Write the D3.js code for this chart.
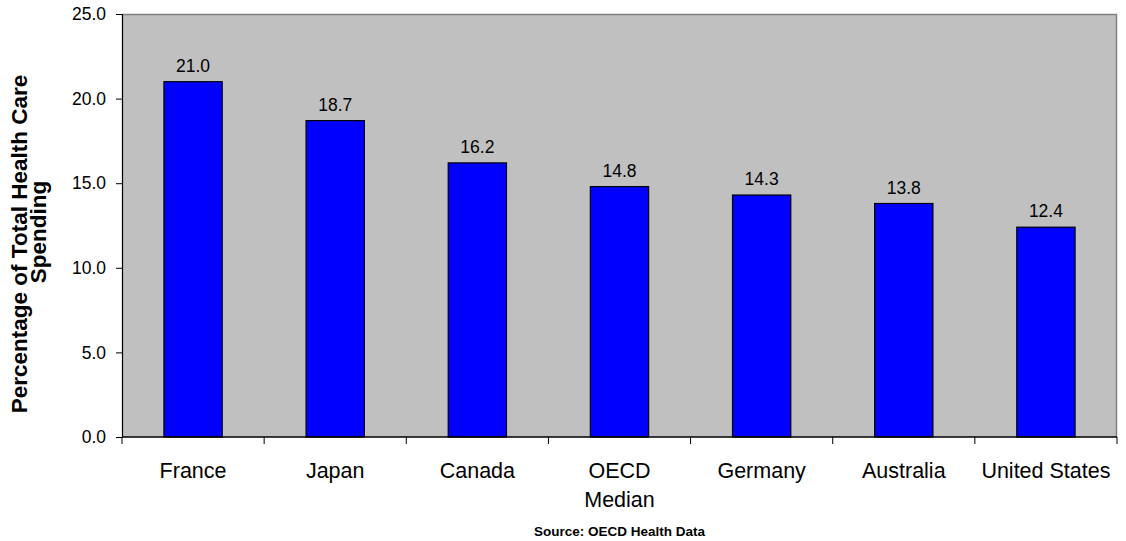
<!DOCTYPE html>
<html>
<head>
<meta charset="utf-8">
<script src="https://cdn.jsdelivr.net/npm/d3@7"></script>
<style>
  body { margin: 0; background: #fff; }
  svg { display: block; font-family: Arial, "Liberation Sans", sans-serif; }
</style>
</head>
<body>
<svg id="chart" width="1126" height="541"></svg>
<script>
var categories = ['France', 'Japan', 'Canada', 'OECD\nMedian', 'Germany', 'Australia', 'United States'];
var values = [21.0, 18.7, 16.2, 14.8, 14.3, 13.8, 12.4];
var yTicks = [0, 5, 10, 15, 20, 25];
var yTitle = ['Percentage of Total Health Care', 'Spending'];
var source = 'Source: OECD Health Data';

var svg = d3.select('#chart');
var plotLeft = 122, plotRight = 1117, plotTop = 14, plotBottom = 437;

var x = d3.scaleBand().domain(categories).range([plotLeft, plotRight]).padding(0);
var y = d3.scaleLinear().domain([0, 25]).range([plotBottom, plotTop]);
var barWidth = x.bandwidth() * 0.41;

// plot background
svg.append('rect')
    .attr('x', plotLeft).attr('y', plotTop)
    .attr('width', plotRight - plotLeft).attr('height', plotBottom - plotTop)
    .attr('fill', '#c0c0c0');
svg.append('path')
    .attr('d', 'M' + plotLeft + ',' + (plotTop + 0.5) + 'H' + (plotRight - 0.5) + 'V' + plotBottom)
    .attr('fill', 'none').attr('stroke', '#808080').attr('stroke-width', 1.5);

// bars
svg.append('g')
    .selectAll('rect')
    .data(values)
    .enter()
    .append('rect')
    .attr('x', function (d, i) { return x(categories[i]) + (x.bandwidth() - barWidth) / 2; })
    .attr('y', function (d) { return y(d); })
    .attr('width', barWidth)
    .attr('height', function (d) { return y(0) - y(d); })
    .attr('fill', '#0000ff')
    .attr('stroke', '#000')
    .attr('stroke-width', 1.2);

// value labels
svg.append('g')
    .selectAll('text')
    .data(values)
    .enter()
    .append('text')
    .attr('x', function (d, i) { return x(categories[i]) + x.bandwidth() / 2; })
    .attr('y', function (d) { return y(d) - 10; })
    .attr('text-anchor', 'middle')
    .style('font-size', '17.5px')
    .attr('fill', '#000')
    .text(function (d) { return d.toFixed(1); });

// y axis
var yAxis = svg.append('g')
    .attr('transform', 'translate(' + plotLeft + ',0)')
    .call(d3.axisLeft(y).tickValues(yTicks).tickSize(6).tickPadding(10)
        .tickFormat(d3.format('.1f')));
yAxis.select('.domain').attr('stroke', '#000').attr('stroke-width', 1.2);
yAxis.selectAll('.tick line').attr('stroke', '#000');
yAxis.selectAll('.tick text')
    .style('font-size', '17.5px')
    .style('font-family', 'Arial, "Liberation Sans", sans-serif')
    .attr('fill', '#000');

// x axis
svg.append('line')
    .attr('x1', plotLeft).attr('x2', plotRight)
    .attr('y1', plotBottom).attr('y2', plotBottom)
    .attr('stroke', '#000').attr('stroke-width', 1.5);
var bounds = categories.map(function (c) { return x(c); }).concat([plotRight]);
svg.append('g')
    .selectAll('line')
    .data(bounds)
    .enter()
    .append('line')
    .attr('x1', function (d) { return d; }).attr('x2', function (d) { return d; })
    .attr('y1', plotBottom).attr('y2', plotBottom + 7)
    .attr('stroke', '#000');

var labels = svg.append('g')
    .selectAll('text')
    .data(categories)
    .enter()
    .append('text')
    .attr('text-anchor', 'middle')
    .attr('y', plotBottom + 41)
    .style('font-size', '21.5px')
    .attr('fill', '#000');
labels.each(function (d) {
    var t = d3.select(this);
    d.split('\n').forEach(function (line, k) {
        t.append('tspan')
            .attr('x', x(d) + x.bandwidth() / 2)
            .attr('dy', k === 0 ? 0 : 29)
            .text(line);
    });
});

// y title
svg.append('text')
    .attr('transform', 'translate(27,244) rotate(-90)')
    .attr('text-anchor', 'middle')
    .style('font-size', '22.5px')
    .style('font-weight', 'bold')
    .text(yTitle[0]);
svg.append('text')
    .attr('transform', 'translate(46,232) rotate(-90)')
    .attr('text-anchor', 'middle')
    .style('font-size', '22.5px')
    .style('font-weight', 'bold')
    .text(yTitle[1]);

// source
svg.append('text')
    .attr('x', (plotLeft + plotRight) / 2)
    .attr('y', 536)
    .attr('text-anchor', 'middle')
    .style('font-size', '13.5px')
    .style('font-weight', 'bold')
    .text(source);
</script>
</body>
</html>
